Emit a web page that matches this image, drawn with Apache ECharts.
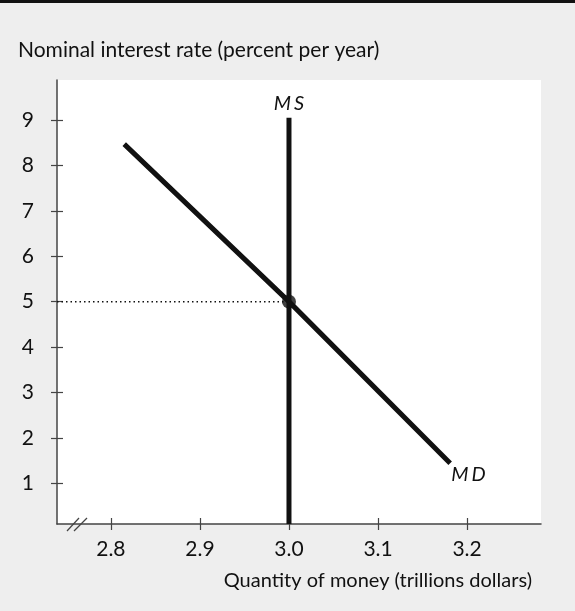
<!DOCTYPE html>
<html>
<head>
<meta charset="utf-8">
<script src="https://cdn.jsdelivr.net/npm/echarts@6/dist/echarts.min.js"></script>
<style>
  html, body { margin: 0; padding: 0; background: #eeeeee; }
  #chart { width: 575px; height: 611px; }
</style>
</head>
<body>
<div id="chart"></div>
<script>
// axis ranges and ticks
var xMin = 2.7395, xMax = 3.283;
var yMin = 0.103, yMax = 9.881;
var xTicks = [2.8, 2.9, 3.0, 3.1, 3.2];
var yTicks = [1, 2, 3, 4, 5, 6, 7, 8, 9];

// curves
var msLine = [[3.0, yMin], [3.0, 9.05]];
var mdLine = [[2.815, 8.47], [3.0, 5.0], [3.181, 1.44]];
var equilibrium = [3.0, 5.0];

var font = 'Lato';
var ink = '#111';
var axisColor = '#444';

var chart = echarts.init(document.getElementById('chart'));

// curve labels: italic letters drawn a little apart
function curveLabel(a, b) {
  var seg = { color: ink, fontFamily: font, fontStyle: 'italic', fontSize: 20 };
  return {
    formatter: '{a|' + a + '}{b|' + b + '}',
    rich: {
      a: seg,
      b: Object.assign({ padding: [0, 0, 0, 3] }, seg)
    }
  };
}

// y axis: one with ticks outside + labels, one with ticks inside (cross ticks)
function yAxisOf(inside) {
  return {
    type: 'value',
    min: yMin,
    max: yMax,
    position: 'left',
    splitLine: { show: false },
    axisLine: { show: !inside, lineStyle: { color: axisColor, width: 1.5 } },
    axisTick: {
      show: true, inside: inside, length: 6,
      customValues: yTicks,
      lineStyle: { color: axisColor, width: 1.2 }
    },
    axisLabel: {
      show: !inside,
      customValues: yTicks,
      margin: 23,
      color: ink,
      fontFamily: font,
      fontSize: 21
    }
  };
}

function xAxisOf(inside) {
  return {
    type: 'value',
    min: xMin,
    max: xMax,
    position: 'bottom',
    splitLine: { show: false },
    axisLine: { show: !inside, lineStyle: { color: axisColor, width: 1.5 } },
    axisTick: {
      show: true, inside: inside, length: 6,
      customValues: xTicks,
      lineStyle: { color: axisColor, width: 1.2 }
    },
    axisLabel: {
      show: !inside,
      customValues: xTicks,
      margin: 15,
      color: ink,
      fontFamily: font,
      fontSize: 21,
      formatter: function (v) { return v.toFixed(1); }
    },
    name: inside ? '' : 'Quantity of money (trillions dollars)',
    nameLocation: 'end',
    nameGap: -9,
    nameTextStyle: {
      align: 'right',
      verticalAlign: 'top',
      padding: [47, 0, 0, 0],
      color: ink,
      fontFamily: font,
      fontSize: 20
    }
  };
}

var option = {
  backgroundColor: '#eeeeee',
  animation: false,
  title: {
    text: 'Nominal interest rate (percent per year)',
    left: 18,
    top: 40,
    padding: 0,
    textStyle: { color: ink, fontFamily: font, fontSize: 21, fontWeight: 'normal' }
  },
  grid: {
    left: 57,
    right: 34,
    top: 80,
    bottom: 87,
    show: true,
    backgroundColor: '#ffffff',
    borderWidth: 0,
    outerBoundsMode: 'none'
  },
  xAxis: [xAxisOf(false), xAxisOf(true)],
  yAxis: [yAxisOf(false), yAxisOf(true)],
  graphic: [
    // top rule
    { type: 'rect', left: 0, top: 0, shape: { width: 575, height: 3 }, style: { fill: '#111' } },
    // axis break marks
    { type: 'line', shape: { x1: 67, y1: 531, x2: 79, y2: 518 }, style: { stroke: axisColor, lineWidth: 1.2 }, z: 10 },
    { type: 'line', shape: { x1: 74, y1: 531, x2: 87, y2: 518 }, style: { stroke: axisColor, lineWidth: 1.2 }, z: 10 }
  ],
  series: [
    {
      // dotted guide at the equilibrium rate
      type: 'line',
      data: [[xMin, equilibrium[1]], equilibrium],
      symbol: 'none',
      lineStyle: { color: ink, width: 1.5, type: [1.5, 3] },
      z: 2
    },
    {
      name: 'MS',
      type: 'line',
      data: [
        msLine[0],
        {
          value: msLine[1],
          label: Object.assign({ show: true, position: 'top', distance: 4 }, curveLabel('M', 'S'))
        }
      ],
      symbol: 'circle',
      symbolSize: 0,
      lineStyle: { color: ink, width: 5, cap: 'butt' },
      z: 3
    },
    {
      name: 'MD',
      type: 'line',
      data: mdLine.map(function (p, i) {
        if (i < mdLine.length - 1) return p;
        return {
          value: p,
          label: Object.assign({ show: true, position: 'right', distance: 1, offset: [0, 11] }, curveLabel('M', 'D'))
        };
      }),
      symbol: 'circle',
      symbolSize: 0,
      lineStyle: { color: ink, width: 5, cap: 'butt' },
      z: 3
    },
    {
      type: 'scatter',
      data: [equilibrium],
      symbolSize: 14,
      itemStyle: { color: ink },
      z: 4
    }
  ]
};

chart.setOption(option);
</script>
</body>
</html>
